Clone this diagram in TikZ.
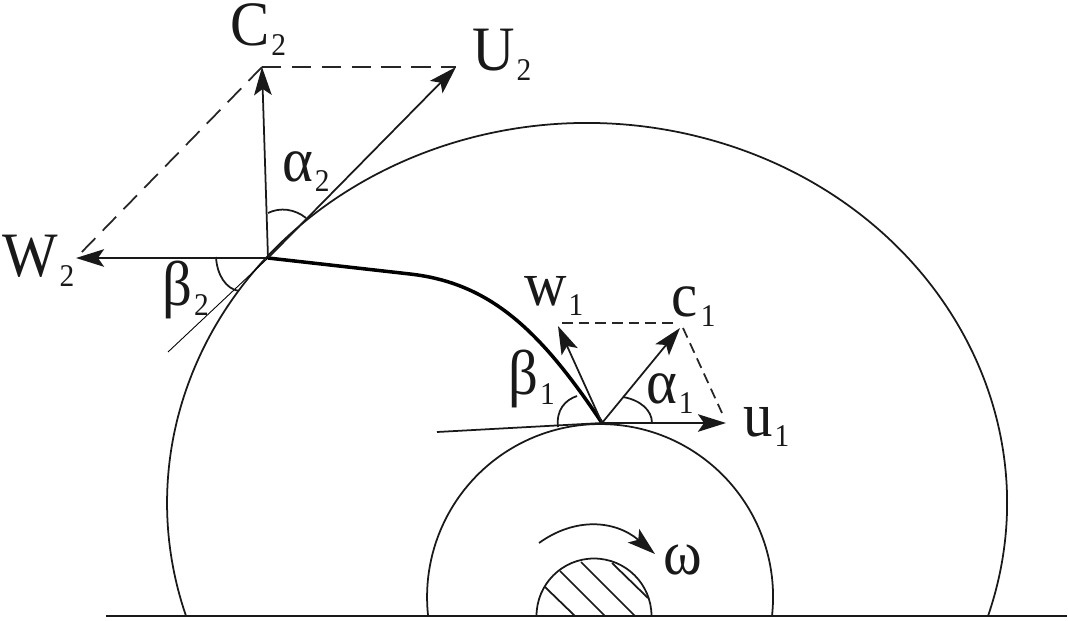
\documentclass[tikz,border=0pt]{standalone}
\usepackage{fontspec}
\setmainfont[FakeStretch=0.93]{Liberation Serif}
\usetikzlibrary{arrows.meta}
\newcommand{\lsub}[1]{\hspace{1pt}\raisebox{-6pt}{\fontsize{18}{18}\selectfont #1}}
\tikzset{
  vec/.style={-{Stealth[length=16pt,width=10pt,inset=3.5pt]}, line width=1pt, black!90},
  guide/.style={dashed, dash pattern=on 11pt off 6pt, line width=1pt, black!85},
  guidesmall/.style={dashed, dash pattern=on 6pt off 3.5pt, line width=1pt, black!85},
  curve/.style={line width=1pt, black!90},
  lbl/.style={inner sep=0pt, anchor=base west, font=\fontsize{36}{36}\selectfont, black!90},
}
\begin{document}
\begin{tikzpicture}[x=0.02cm, y=0.02cm]
  \useasboundingbox (0,0) rectangle (1068,620);

  % Points
  \coordinate (hubB) at (268,362);
  \coordinate (tipC) at (262,553);
  \coordinate (tipU) at (456,553);
  \coordinate (tipW) at (76,362);
  \coordinate (tailB) at (168,268);
  \coordinate (hubA) at (602,197);
  \coordinate (tipw) at (558,294);
  \coordinate (tipc) at (680,292);
  \coordinate (tipu) at (726,197);
  \coordinate (tailA) at (437,188);

  % Base line
  \draw[curve] (106,4) -- (1067,4);

  % Casing, wheel and shaft
  \draw[curve] (988,4) arc[start angle=-17.3, end angle=197.3, x radius=420, y radius=380];
  \draw[curve] (772,4) arc[start angle=-6.3, end angle=186.3, radius=173];
  \draw[curve] (651.5,4) arc[start angle=0, end angle=180, radius=57.5];

  % Shaft hatching
  \draw[curve] (545,33) -- (575,4);
  \draw[curve] (560,49) -- (605,4);
  \draw[curve] (581,58) -- (635,4);
  \draw[curve] (612,57) -- (648,22);

  % Rotation
  \draw[vec] (539,77) .. controls (575,103) and (615,100) .. (655,66);
  \node[lbl] (omega) at (663,46) {ω};

  % Blade
  \draw[line width=2pt] (hubB) -- (410,346) .. controls (490,337) and (540,290) .. (hubA);

  % Outlet triangle
  \draw[guide] (tipC) -- (tipU);
  \draw[guide] (tipC) -- (tipW);
  \draw[vec] (hubB) -- (tipC);
  \draw[vec] (hubB) -- (tipU);
  \draw[vec] (hubB) -- (tipW);
  \draw[line width=0.5pt] (tailB) -- (hubB);
  \draw[curve] (268,407) .. controls (280,413) and (295,411) .. (306,402);
  \draw[curve] (216,363) .. controls (217,345) and (226,331) .. (239,329);
  \node[lbl] (labC) at (230,575) {C\lsub{2}};
  \node[lbl] (labU) at (472,550) {U\lsub{2}};
  \node[lbl] (labW) at (2,344) {W\lsub{2}};
  \node[lbl] (labAlpha) at (282,439) {α\lsub{2}};
  \node[lbl] (labBeta) at (162,315) {β\lsub{2}};

  % Inlet triangle
  \draw[guidesmall] (562,297) -- (677,297);
  \draw[guidesmall] (683,292) -- (722,207);
  \draw[vec] (hubA) -- (tipw);
  \draw[vec] (hubA) -- (tipc);
  \draw[vec] (hubA) -- (tipu);
  \draw[curve] (tailA) -- (hubA);
  \draw[curve] (558,193) .. controls (556,210) and (565,220) .. (577,224);
  \draw[curve] (623,223) .. controls (640,220) and (652,210) .. (652,197);
  \node[lbl] (labw) at (524,315) {w\lsub{1}};
  \node[lbl] (labc) at (671,304) {c\hspace{1pt}\lsub{1}};
  \node[lbl] (labu) at (743,184) {u\lsub{1}};
  \node[lbl] (labalpha) at (646,217) {α\lsub{1}};
  \node[lbl] (labbeta) at (508,226) {β\lsub{1}};

\end{tikzpicture}
\end{document}
